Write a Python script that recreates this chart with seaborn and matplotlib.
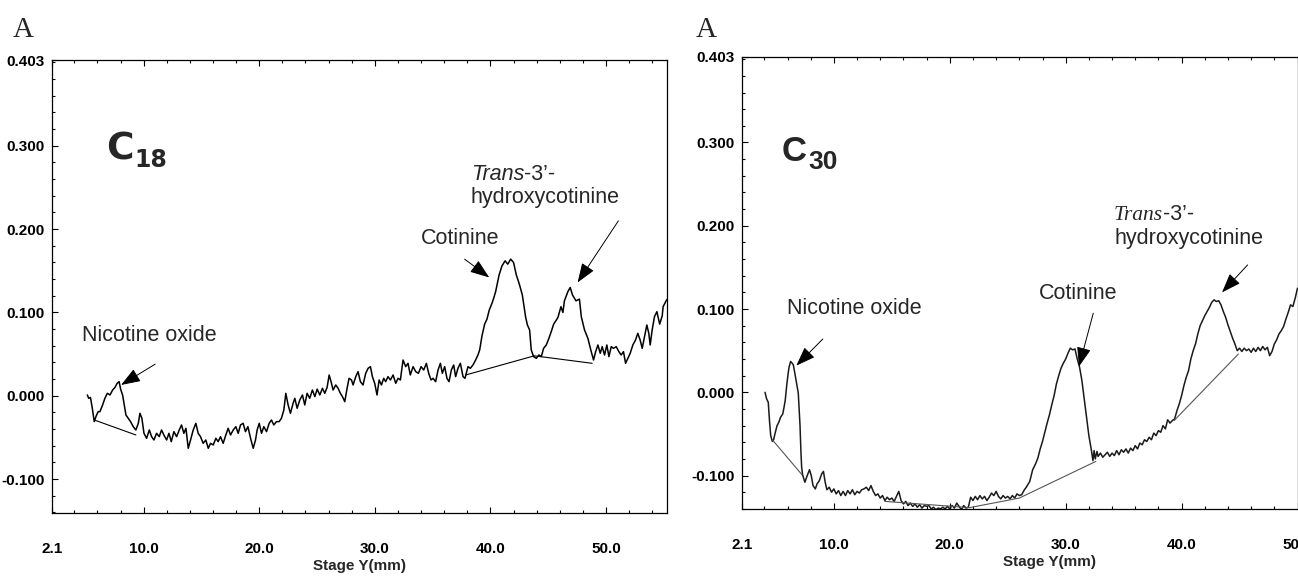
import numpy as np
import pandas as pd
import matplotlib
matplotlib.use("Agg")
import matplotlib.pyplot as plt
from matplotlib.ticker import MultipleLocator, FixedLocator, FormatStrFormatter
import seaborn as sns

# ---------------- data ----------------
# C18 panel trace (Stage Y in mm, signal)
c18_x = [5.13, 5.25, 5.40, 5.55, 5.73, 5.90, 6.07, 6.22, 6.45, 6.65, 6.86, 7.09, 7.32, 7.52, 7.71, 7.88,
         8.01, 8.18, 8.30, 8.47, 8.67, 8.87, 9.10, 9.33, 9.54, 9.68, 9.85, 10.03, 10.26, 10.49, 10.69,
         10.89, 11.12, 11.35, 11.55, 11.75, 11.99, 12.19, 12.39, 12.62, 12.85, 13.08, 13.28, 13.48,
         13.66, 13.86, 14.06, 14.29, 14.52, 14.72, 14.92, 15.15, 15.38, 15.59, 15.79, 16.02, 16.25,
         16.45, 16.65, 16.88, 17.11, 17.31, 17.52, 17.75, 17.98, 18.18, 18.38, 18.61, 18.81, 19.02,
         19.25, 19.48, 19.68, 19.82, 20.00, 20.20, 20.40, 20.63, 20.86, 21.06, 21.26, 21.49, 21.72,
         21.92, 22.13, 22.30, 22.50, 22.70, 22.93, 23.08, 23.28,
         23.51, 23.74, 23.94, 24.14, 24.37, 24.60, 24.81, 25.01, 25.24, 25.47, 25.67, 25.87, 26.05,
         26.25, 26.39, 26.62, 26.82, 27.02, 27.20, 27.40, 27.60, 27.77, 27.98, 28.12, 28.35, 28.55,
         28.75, 28.98, 29.21, 29.42, 29.62, 29.79, 29.99, 30.19, 30.37, 30.57, 30.77, 30.94, 31.14,
         31.35, 31.58, 31.81, 32.01, 32.21, 32.44, 32.67, 32.87, 33.07, 33.31, 33.54, 33.77, 34.00,
         34.23, 34.46, 34.66, 34.86, 35.03, 35.26, 35.47, 35.67, 35.84, 36.04, 36.24, 36.42, 36.62,
         36.82, 36.99, 37.19, 37.40, 37.63, 37.80, 38.06, 38.26, 38.49, 38.72, 38.92, 39.07,
         39.27, 39.50, 39.70, 39.90, 40.16, 40.30, 40.45, 40.75, 41.00, 41.27, 41.50, 41.75, 42.00,
         42.24, 42.50, 42.76, 43.05, 43.20, 43.39, 43.53, 43.74, 43.97, 44.20, 44.40, 44.60, 44.83,
         45.06, 45.26, 45.47, 45.65, 45.84, 46.10, 46.27, 46.40, 46.70, 46.90, 47.10, 47.40, 47.70,
         47.86, 48.14, 48.43, 48.72, 48.92, 49.10, 49.30, 49.50, 49.67, 49.87, 50.07, 50.25, 50.45,
         50.65, 50.88, 51.11, 51.31, 51.51, 51.69, 51.89, 52.09, 52.32, 52.55, 52.75, 52.95, 53.13,
         53.33, 53.53, 53.70, 53.82, 53.99, 54.19, 54.40, 54.64, 54.86, 54.94, 55.20, 55.30]
c18_y = [0.001, -0.003, -0.002, -0.014, -0.031, -0.024, -0.019, -0.019, -0.011, -0.003, 0.003, 0.001,
         0.007, 0.010, 0.015, 0.017, 0.008, 0.001, -0.009, -0.023, -0.027, -0.031, -0.037, -0.041,
         -0.033, -0.021, -0.027, -0.045, -0.051, -0.041, -0.049, -0.053, -0.045, -0.049, -0.041,
         -0.047, -0.053, -0.045, -0.055, -0.043, -0.049, -0.041, -0.035, -0.045, -0.039, -0.063,
         -0.053, -0.041, -0.033, -0.045, -0.049, -0.057, -0.053, -0.063, -0.057, -0.059, -0.051,
         -0.055, -0.049, -0.057, -0.047, -0.039, -0.047, -0.041, -0.037, -0.045, -0.035, -0.033,
         -0.043, -0.037, -0.051, -0.063, -0.053, -0.041, -0.033, -0.045, -0.037, -0.043, -0.033,
         -0.029, -0.035, -0.031, -0.031, -0.027, -0.017, 0.003, -0.011, -0.021, -0.009, -0.003,
         -0.015,
         -0.005, 0.001, -0.011, 0.003, -0.003, 0.007, -0.001, 0.008, 0.001, 0.009, 0.003, 0.010,
         0.025, 0.015, 0.007, 0.013, 0.009, 0.003, -0.001, -0.007, 0.009, 0.021, 0.019, 0.013, 0.023,
         0.029, 0.017, 0.013, 0.027, 0.033, 0.035, 0.023, 0.015, 0.001, 0.019, 0.013, 0.021, 0.017,
         0.023, 0.019, 0.025, 0.015, 0.021, 0.019, 0.043, 0.035, 0.039, 0.025, 0.035, 0.029, 0.027,
         0.035, 0.031, 0.039, 0.027, 0.019, 0.021, 0.017, 0.031, 0.039, 0.027, 0.035, 0.021, 0.017,
         0.031, 0.037, 0.023, 0.033, 0.039, 0.023, 0.021, 0.035, 0.033, 0.037, 0.043, 0.049, 0.055,
         0.072, 0.086, 0.092, 0.103, 0.112, 0.118, 0.125, 0.145, 0.156, 0.162, 0.158, 0.164, 0.160,
         0.145, 0.134, 0.121, 0.094, 0.085, 0.079, 0.055, 0.047, 0.045, 0.049, 0.047, 0.057, 0.061,
         0.069, 0.077, 0.086, 0.090, 0.094, 0.107, 0.100, 0.114, 0.125, 0.130, 0.121, 0.114, 0.116,
         0.095, 0.079, 0.069, 0.053, 0.043, 0.053, 0.061, 0.051, 0.059, 0.049, 0.061, 0.047, 0.059,
         0.057, 0.059, 0.053, 0.049, 0.053, 0.039, 0.045, 0.051, 0.061, 0.067, 0.075, 0.067, 0.057,
         0.071, 0.085, 0.075, 0.061, 0.079, 0.095, 0.101, 0.086, 0.096, 0.107, 0.114, 0.116]

# C18 peak baselines
c18_base_x = [[5.73, 9.33], [37.86, 43.80, 48.80]]
c18_base_y = [[-0.029, -0.047], [0.025, 0.048, 0.039]]

# C30 panel trace
c30_x = [4.06, 4.20, 4.34, 4.45, 4.55, 4.69, 4.80, 4.95, 5.10, 5.25, 5.40, 5.59, 5.70, 5.80, 5.93, 6.05,
         6.13, 6.27, 6.40, 6.50, 6.62, 6.73, 6.85, 6.93, 7.00, 7.08, 7.16, 7.22, 7.30, 7.50, 7.70,
         7.90, 8.05, 8.20, 8.40, 8.55, 8.75, 8.95, 9.10, 9.25, 9.40, 9.60, 9.80, 10.0, 10.2, 10.4,
         10.6, 10.8, 11.0, 11.2, 11.4, 11.6, 11.8, 12.0, 12.2, 12.4, 12.6, 12.8, 13.0, 13.2, 13.4,
         13.6, 13.8, 14.0, 14.2, 14.4, 14.6, 14.8, 15.0, 15.2, 15.4, 15.6, 15.8, 16.0, 16.2, 16.4,
         16.6, 16.8, 17.0, 17.2, 17.4, 17.6, 17.8, 18.0, 18.2, 18.4, 18.6, 18.8, 19.0, 19.2, 19.4,
         19.6, 19.8, 20.0, 20.2, 20.4, 20.6, 20.8, 21.0, 21.2, 21.4, 21.6, 21.8, 22.0, 22.2, 22.4,
         22.6, 22.8, 23.0, 23.2, 23.4, 23.6, 23.8, 24.0, 24.2, 24.4, 24.6, 24.8, 25.0, 25.2, 25.4,
         25.6, 25.8, 26.0, 26.2, 26.44, 26.6, 26.9, 27.15, 27.4, 27.6, 27.8, 28.0, 28.2, 28.4, 28.6,
         28.8, 29.0, 29.2, 29.4, 29.6, 29.8, 30.0, 30.2, 30.4, 30.6, 30.8, 31.0, 31.2, 31.4, 31.6,
         31.8, 32.0, 32.2, 32.35, 32.45, 32.55, 32.7, 32.8, 33.0, 33.2, 33.4, 33.6, 33.8, 34.0, 34.2,
         34.4, 34.6, 34.8, 35.0, 35.2, 35.4, 35.6, 35.8, 36.0, 36.2, 36.4, 36.6, 36.8, 37.0, 37.2,
         37.4, 37.6, 37.8, 38.0, 38.2, 38.4, 38.6, 38.8, 39.0, 39.2, 39.4, 39.6, 39.8, 40.0, 40.2,
         40.4, 40.6, 40.8, 41.0, 41.2, 41.4, 41.6, 41.8, 42.0, 42.2, 42.4, 42.6, 42.8, 43.0, 43.2,
         43.4, 43.6, 43.8, 44.0, 44.2, 44.4, 44.6, 44.8, 45.0, 45.2, 45.4, 45.6, 45.8, 46.0, 46.2,
         46.4, 46.6, 46.8, 47.0, 47.2, 47.4, 47.6, 47.8, 48.0, 48.2, 48.4, 48.6, 48.8, 49.0, 49.2,
         49.4, 49.6, 49.8, 50.0]
c30_y = [0.000, -0.008, -0.012, -0.035, -0.052, -0.059, -0.057, -0.048, -0.040, -0.036, -0.030,
         -0.026, -0.018, -0.010, 0.008, 0.022, 0.030, 0.037, 0.035, 0.033, 0.024, 0.015, 0.005,
         -0.001, -0.020, -0.040, -0.072, -0.090, -0.099, -0.108, -0.100, -0.093, -0.100, -0.112,
         -0.116, -0.110, -0.106, -0.098, -0.095, -0.108, -0.117, -0.114, -0.120, -0.116, -0.122,
         -0.118, -0.124, -0.119, -0.124, -0.118, -0.122, -0.117, -0.123, -0.119, -0.121, -0.117,
         -0.116, -0.114, -0.118, -0.112, -0.119, -0.124, -0.122, -0.127, -0.124, -0.130, -0.126,
         -0.129, -0.127, -0.131, -0.125, -0.119, -0.130, -0.134, -0.131, -0.136, -0.133, -0.137,
         -0.134, -0.138, -0.135, -0.139, -0.136, -0.137, -0.136, -0.140, -0.138, -0.141, -0.139,
         -0.140, -0.138, -0.140, -0.137, -0.140, -0.136, -0.139, -0.133, -0.137, -0.141, -0.136,
         -0.139, -0.138, -0.126, -0.130, -0.125, -0.129, -0.124, -0.128, -0.125, -0.130, -0.126,
         -0.121, -0.124, -0.119, -0.125, -0.128, -0.124, -0.127, -0.125, -0.128, -0.124, -0.127,
         -0.122, -0.124, -0.123, -0.117, -0.114, -0.107, -0.093, -0.086, -0.079, -0.068, -0.059,
         -0.048, -0.037, -0.027, -0.015, -0.004, 0.010, 0.020, 0.029, 0.035, 0.040, 0.047, 0.053,
         0.051, 0.052, 0.040, 0.030, 0.014, -0.008, -0.030, -0.052, -0.068, -0.082, -0.070, -0.080,
         -0.071, -0.077, -0.073, -0.078, -0.075, -0.072, -0.077, -0.073, -0.076, -0.070, -0.075,
         -0.069, -0.072, -0.068, -0.073, -0.067, -0.070, -0.064, -0.068, -0.061, -0.063, -0.057,
         -0.059, -0.054, -0.057, -0.049, -0.052, -0.046, -0.048, -0.040, -0.044, -0.033, -0.037,
         -0.034, -0.032, -0.022, -0.014, -0.004, 0.008, 0.018, 0.026, 0.040, 0.050, 0.058, 0.070,
         0.080, 0.086, 0.092, 0.097, 0.102, 0.108, 0.111, 0.109, 0.110, 0.105, 0.097, 0.090, 0.081,
         0.073, 0.065, 0.058, 0.050, 0.053, 0.049, 0.053, 0.050, 0.052, 0.048, 0.053, 0.049, 0.054,
         0.050, 0.055, 0.051, 0.054, 0.044, 0.049, 0.058, 0.063, 0.070, 0.074, 0.079, 0.088, 0.096,
         0.105, 0.103, 0.113, 0.125]

# C30 peak baselines
c30_base_x = [[4.69, 7.25], [14.4, 21.7, 26.0, 32.6], [39.35, 44.9]]
c30_base_y = [[-0.057, -0.099], [-0.131, -0.1385, -0.127, -0.083], [-0.034, 0.046]]

x_ticks = [2.1, 10.0, 20.0, 30.0, 40.0, 50.0]
y_ticks = [-0.100, 0.000, 0.100, 0.200, 0.300, 0.403]
x_label = "Stage Y(mm)"
panel_letter = "A"

# ---------------- style ----------------
sns.set_theme(style="white")
plt.rcParams['font.family'] = ['Liberation Sans', 'DejaVu Sans']
plt.rcParams['axes.edgecolor'] = 'black'
plt.rcParams['axes.linewidth'] = 0.9

W, H = 1298, 577
fig = plt.figure(figsize=(W / 100, H / 100), dpi=100)

def px_axes(l, t, r, b):
    return fig.add_axes([l / W, 1 - b / H, (r - l) / W, (b - t) / H])

ax1 = px_axes(52.3, 60.0, 667.3, 513.3)
ax2 = px_axes(742.3, 56.7, 1297.5, 509.3)

def style_axis(ax, xlim, ylim, label_x):
    ax.set_xlim(*xlim)
    ax.set_ylim(*ylim)
    ax.xaxis.set_major_locator(FixedLocator(x_ticks))
    ax.xaxis.set_minor_locator(MultipleLocator(2))
    ax.yaxis.set_major_locator(FixedLocator(y_ticks))
    ax.yaxis.set_minor_locator(MultipleLocator(0.02))
    ax.xaxis.set_major_formatter(FormatStrFormatter('%.1f'))
    ax.yaxis.set_major_formatter(FormatStrFormatter('%.3f'))
    ax.tick_params(axis='x', which='both', direction='in', top=True, bottom=True, colors='black',
                   labelsize=11, pad=21)
    ax.tick_params(axis='y', which='both', direction='in', left=True, right=False, colors='black',
                   labelsize=11, pad=5.5)
    ax.tick_params(which='major', length=4.5, width=0.8)
    ax.tick_params(which='minor', length=2.2, width=0.8)
    for lab in ax.get_xticklabels() + ax.get_yticklabels():
        lab.set_fontweight('bold')
    for s in ax.spines.values():
        s.set_visible(True)
        s.set_color('black')
    ax.set_xlabel(x_label, fontsize=11, fontweight='bold', labelpad=0)
    ax.xaxis.set_label_coords(label_x, -0.100)
    ax.set_ylabel("")
    ax.grid(False)

arrow_kw = dict(arrowstyle='-|>,head_length=0.6,head_width=0.22', color='black', lw=0.7,
                mutation_scale=20, shrinkA=0, shrinkB=0)

# ---------------- C18 panel ----------------
sns.lineplot(x=c18_x, y=c18_y, ax=ax1, color='black', lw=1.1, estimator=None, sort=False)
for bx, by in zip(c18_base_x, c18_base_y):
    sns.lineplot(x=bx, y=by, ax=ax1, color='black', lw=0.8, estimator=None, sort=False)
style_axis(ax1, (2.1, 55.3), (-0.141, 0.403), 0.5)

c1 = ax1.text(6.74, 0.283, "C", fontsize=27, fontweight='bold', family='DejaVu Sans',
              ha='left', va='baseline')
ax1.annotate("18", xy=(1.0, 0.283), xycoords=(c1, 'data'), xytext=(1, -5), textcoords='offset points',
             fontsize=17, fontweight='bold', family='DejaVu Sans', ha='left', va='baseline')

ax1.text(4.7, 0.066, "Nicotine oxide", fontsize=15.5, ha='left', va='baseline')
ax1.text(34.0, 0.182, "Cotinine", fontsize=15.5, ha='left', va='baseline')
t1 = ax1.text(38.3, 0.259, "Trans", fontsize=15.5, style='italic', ha='left', va='baseline')
ax1.annotate("-3\u2019-", xy=(1.0, 0.259), xycoords=(t1, 'data'), fontsize=15.5,
             ha='left', va='baseline')
ax1.text(38.25, 0.231, "hydroxycotinine", fontsize=15.5, ha='left', va='baseline')

ax1.annotate("", xy=(8.05, 0.013), xytext=(11.0, 0.038), arrowprops=arrow_kw)
ax1.annotate("", xy=(39.9, 0.142), xytext=(37.77, 0.164), arrowprops=arrow_kw)
ax1.annotate("", xy=(47.54, 0.136), xytext=(51.07, 0.210), arrowprops=arrow_kw)

# ---------------- C30 panel ----------------
sns.lineplot(x=c30_x, y=c30_y, ax=ax2, color='#1a1a1a', lw=1.1, estimator=None, sort=False)
for bx, by in zip(c30_base_x, c30_base_y):
    sns.lineplot(x=bx, y=by, ax=ax2, color='#555555', lw=0.8, estimator=None, sort=False)
style_axis(ax2, (2.1, 50.0), (-0.1405, 0.403), 0.553)

c2 = ax2.text(5.5, 0.278, "C", fontsize=25, fontweight='bold', ha='left', va='baseline')
ax2.annotate("30", xy=(1.0, 0.278), xycoords=(c2, 'data'), xytext=(1, -6), textcoords='offset points',
             fontsize=19, fontweight='bold', ha='left', va='baseline')

ax2.text(5.95, 0.0945, "Nicotine oxide", fontsize=15.5, ha='left', va='baseline')
ax2.text(27.73, 0.112, "Cotinine", fontsize=15.5, ha='left', va='baseline')
t2 = ax2.text(34.15, 0.207, "Trans", fontsize=15.5, style='italic', family='Liberation Serif',
              ha='left', va='baseline')
ax2.annotate("-3\u2019-", xy=(1.0, 0.207), xycoords=(t2, 'data'), fontsize=15.5,
             ha='left', va='baseline')
ax2.text(34.2, 0.178, "hydroxycotinine", fontsize=15.5, ha='left', va='baseline')

ax2.annotate("", xy=(6.76, 0.032), xytext=(9.05, 0.064), arrowprops=arrow_kw)
ax2.annotate("", xy=(31.15, 0.031), xytext=(32.38, 0.095), arrowprops=arrow_kw)
ax2.annotate("", xy=(43.49, 0.120), xytext=(45.7, 0.153), arrowprops=arrow_kw)

# ---------------- panel letters ----------------
fig.text(13 / W, 1 - 37 / H, panel_letter, family='Liberation Serif', fontsize=21,
         ha='left', va='baseline')
fig.text(696 / W, 1 - 37 / H, panel_letter, family='Liberation Serif', fontsize=21,
         ha='left', va='baseline')

fig.savefig("out.png", dpi=100, facecolor='white')
